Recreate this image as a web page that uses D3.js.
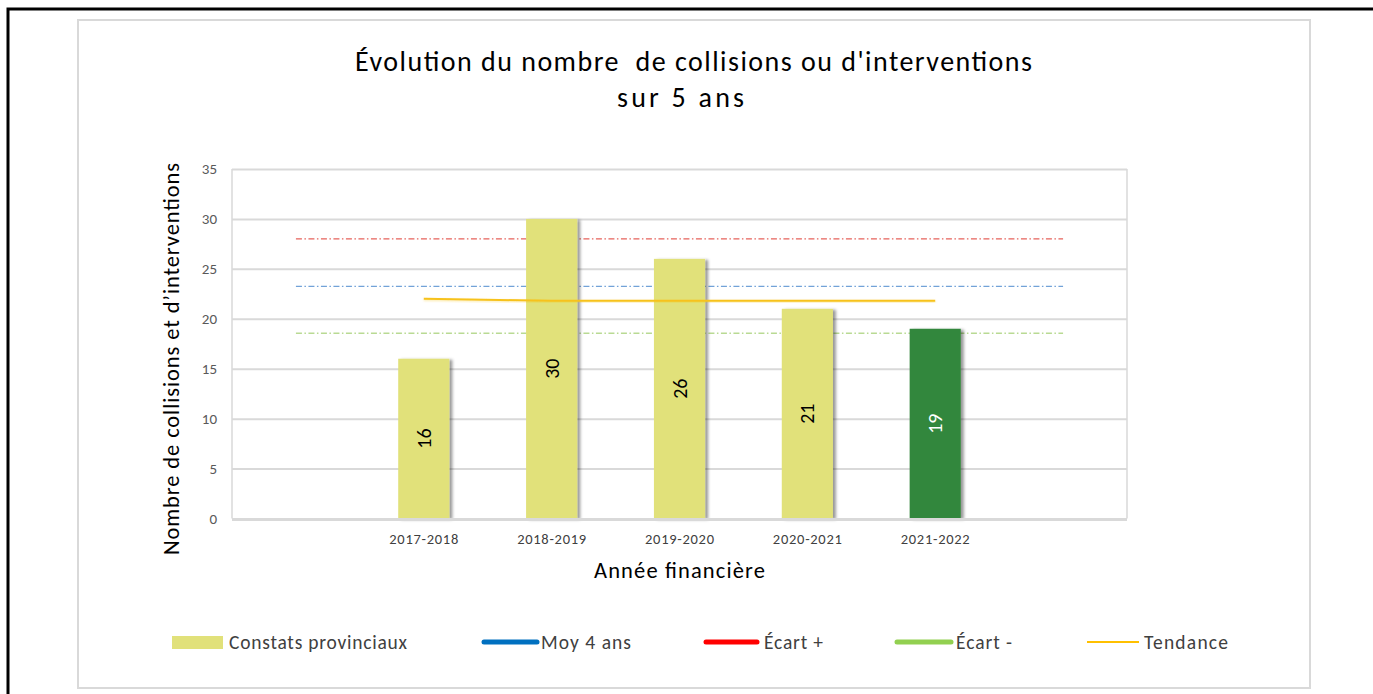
<!DOCTYPE html>
<html>
<head>
<meta charset="utf-8">
<script src="https://cdn.jsdelivr.net/npm/d3@7"></script>
<style>
  html, body { margin: 0; padding: 0; background: #fff; }
  svg { display: block; font-family: Carlito, Calibri, Lato, "Open Sans", sans-serif; }
  text { white-space: pre; }
</style>
</head>
<body>
<svg id="chart" width="1373" height="694"></svg>
<script>
// ---- Data ----
const categories = ["2017-2018", "2018-2019", "2019-2020", "2020-2021", "2021-2022"];
const constats = [16, 30, 26, 21, 19];
const barColors = ["#e1e17a", "#e1e17a", "#e1e17a", "#e1e17a", "#33873d"];
const labelColors = ["#000", "#000", "#000", "#000", "#fff"];
const tendance = [22.0, 21.8, 21.8, 21.8, 21.8];
const moy4 = 23.25;
const ecartPlus = 28.0;
const ecartMinus = 18.55;
const yTicks = [0, 5, 10, 15, 20, 25, 30, 35];
const legendItems = ["Constats provinciaux", "Moy 4 ans", "Écart +", "Écart -", "Tendance"];

// ---- Layout ----
const svg = d3.select("#chart");
const plot = { left: 232, right: 1127, top: 169, bottom: 518.5 };
const slots = ["padStart", ...categories, "padEnd"];

const x = d3.scaleBand().domain(slots).range([plot.left, plot.right]).paddingInner(0.6).paddingOuter(0.3);
const xc = d => x(d) + x.bandwidth() / 2;
const y = d3.scaleLinear().domain([0, 35]).range([plot.bottom, plot.top]);

// defs: shadow
const defs = svg.append("defs");
const f = defs.append("filter").attr("id", "shadow").attr("x", "-20%").attr("y", "-5%").attr("width", "150%").attr("height", "110%");
f.append("feDropShadow").attr("dx", 3).attr("dy", 1).attr("stdDeviation", 1.5).attr("flood-color", "#000").attr("flood-opacity", 0.4);
const f2 = defs.append("filter").attr("id", "lshadow").attr("x", "-5%").attr("y", "-100%").attr("width", "110%").attr("height", "300%");
f2.append("feDropShadow").attr("dx", 0).attr("dy", 1).attr("stdDeviation", 1).attr("flood-color", "#f5c000").attr("flood-opacity", 0.35);

// outer black border
svg.append("rect").attr("x", 8).attr("y", 9).attr("width", 1500).attr("height", 900)
  .attr("fill", "none").attr("stroke", "#000").attr("stroke-width", 3);
// chart frame
svg.append("rect").attr("x", 78).attr("y", 20).attr("width", 1232).attr("height", 668)
  .attr("fill", "#fff").attr("stroke", "#d9d9d9").attr("stroke-width", 2);

// Title
svg.append("text").attr("x", 693.5).attr("y", 71).attr("text-anchor", "middle").attr("fill", "#000")
  .attr("font-size", 28).attr("textLength", 677).attr("lengthAdjust", "spacing")
  .text("Évolution du nombre  de collisions ou d'interventions");
svg.append("text").attr("x", 680.5).attr("y", 107).attr("text-anchor", "middle").attr("fill", "#000")
  .attr("font-size", 28).attr("textLength", 127).attr("lengthAdjust", "spacing")
  .text("sur 5 ans");

// Gridlines + y ticks
const yAxis = d3.axisLeft(y).tickValues(yTicks).tickSize(-(plot.right - plot.left)).tickPadding(15);
const gy = svg.append("g").attr("transform", `translate(${plot.left},0)`).call(yAxis);
gy.select(".domain").remove();
gy.selectAll(".tick line").attr("stroke", "#d9d9d9").attr("stroke-width", 2);
gy.selectAll(".tick text").attr("fill", "#595959").attr("font-size", 15).attr("font-family", "Carlito, Calibri, Lato, sans-serif");
// plot borders left/right
svg.append("line").attr("x1", plot.left).attr("x2", plot.left).attr("y1", plot.top).attr("y2", plot.bottom).attr("stroke", "#d9d9d9").attr("stroke-width", 1.5);
svg.append("line").attr("x1", plot.right).attr("x2", plot.right).attr("y1", plot.top).attr("y2", plot.bottom).attr("stroke", "#d9d9d9").attr("stroke-width", 1.5);

// x axis
const xAxis = d3.axisBottom(x).tickSize(0).tickPadding(15.5).tickFormat(d => categories.includes(d) ? d : "");
const gx = svg.append("g").attr("transform", `translate(0,${plot.bottom})`).call(xAxis);
gx.select(".domain").remove();
gx.selectAll(".tick text").attr("fill", "#404040").attr("font-size", 14.5).attr("font-family", "Carlito, Calibri, Lato, sans-serif")
  .each(function (d) { if (categories.includes(d)) d3.select(this).attr("textLength", 69).attr("lengthAdjust", "spacing"); });

// Reference lines (dashed)
const refLines = [
  { v: ecartPlus, c: "#e6625b" },
  { v: moy4, c: "#72a2d8" },
  { v: ecartMinus, c: "#b9da93" }
];
svg.append("g").selectAll("line").data(refLines).join("line")
  .attr("x1", xc("padStart")).attr("x2", xc("padEnd"))
  .attr("y1", d => y(d.v)).attr("y2", d => y(d.v))
  .attr("stroke", d => d.c).attr("stroke-width", 1.3)
  .attr("stroke-dasharray", "6 2.5 1.5 2.5");

// Bars
svg.append("g").selectAll("rect").data(constats).join("rect")
  .attr("x", (d, i) => x(categories[i]))
  .attr("width", x.bandwidth())
  .attr("y", d => y(d))
  .attr("height", d => y(0) - y(d))
  .attr("fill", (d, i) => barColors[i])
  .attr("filter", "url(#shadow)");

// base axis line
svg.append("line").attr("x1", plot.left).attr("x2", plot.right).attr("y1", plot.bottom + 1).attr("y2", plot.bottom + 1)
  .attr("stroke", "#d9d9d9").attr("stroke-width", 3);

// Bar labels
svg.append("g").selectAll("text").data(constats).join("text")
  .attr("transform", (d, i) => `translate(${xc(categories[i]) + 7},${y(d / 2)}) rotate(-90)`)
  .attr("text-anchor", "middle")
  .attr("font-size", 20)
  .attr("fill", (d, i) => labelColors[i])
  .text(d => d);

// Tendance line
const line = d3.line().x((d, i) => xc(categories[i])).y(d => y(d));
svg.append("path").datum(tendance).attr("d", line)
  .attr("fill", "none").attr("stroke", "#f7c21c").attr("stroke-width", 2).attr("filter", "url(#lshadow)");

// Axis titles
svg.append("text").attr("transform", `translate(179,${(163 + 555) / 2}) rotate(-90)`)
  .attr("text-anchor", "middle").attr("font-size", 22.5).attr("fill", "#000")
  .attr("textLength", 392).attr("lengthAdjust", "spacing")
  .text("Nombre de collisions et d’interventions");
svg.append("text").attr("x", 679.5).attr("y", 578).attr("text-anchor", "middle")
  .attr("font-size", 22.5).attr("fill", "#000").attr("textLength", 171).attr("lengthAdjust", "spacing")
  .text("Année financière");

// Legend
const lg = svg.append("g").attr("font-size", 19.5).attr("fill", "#404040");
const legendSpec = [
  { type: "rect", x0: 172, x1: 223, c: "#e1e17a", tx: 229, w: 178 },
  { type: "thick", x0: 484, x1: 537, c: "#0070c0", tx: 541, w: 90 },
  { type: "thick", x0: 706, x1: 757, c: "#ff0000", tx: 764, w: 59 },
  { type: "thick", x0: 897, x1: 951, c: "#92d050", tx: 956, w: 56 },
  { type: "thin", x0: 1087, x1: 1139, c: "#ffc000", tx: 1144, w: 84 }
];
const ly = 642;
legendSpec.forEach((s, i) => {
  if (s.type === "rect") {
    lg.append("rect").attr("x", s.x0).attr("y", ly - 6).attr("width", s.x1 - s.x0).attr("height", 13).attr("fill", s.c);
  } else {
    lg.append("line").attr("x1", s.x0).attr("x2", s.x1).attr("y1", ly).attr("y2", ly)
      .attr("stroke", s.c).attr("stroke-width", s.type === "thick" ? 5 : 2)
      .attr("stroke-linecap", s.type === "thick" ? "round" : "butt");
  }
  lg.append("text").attr("x", s.tx).attr("y", ly + 7).attr("textLength", s.w).attr("lengthAdjust", "spacing").text(legendItems[i]);
});
</script>
</body>
</html>
